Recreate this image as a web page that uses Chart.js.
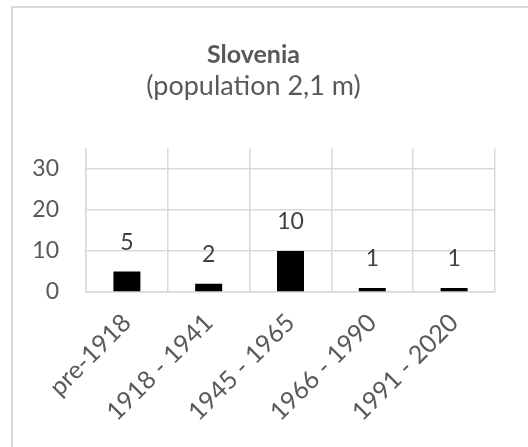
<!DOCTYPE html>
<html>
<head>
<meta charset="utf-8">
<script src="https://cdn.jsdelivr.net/npm/chart.js@4"></script>
<style>
  html, body { margin: 0; padding: 0; background: #ffffff; }
  #wrap { position: relative; width: 528px; height: 447px; }
</style>
</head>
<body>
<div id="wrap"><canvas id="chart" width="528" height="447"></canvas></div>
<script>
// Periods and the number of entries in each
const categories = ['pre-1918', '1918 - 1941', '1945 - 1965', '1966 - 1990', '1991 - 2020'];
const counts = [5, 2, 10, 1, 1];
const yTickValues = [0, 10, 20, 30];
const titleText = 'Slovenia';
const subtitleText = '(population 2,1 m)';

const FONT = 'Lato, "Open Sans", sans-serif';
const TEXT = '#595959';
const GRID = '#d9d9d9';

// Light frame around the whole chart
const framePlugin = {
  id: 'frame',
  beforeDraw(chart) {
    const ctx = chart.ctx;
    ctx.save();
    ctx.fillStyle = '#ffffff';
    ctx.fillRect(0, 0, chart.width, chart.height);
    ctx.strokeStyle = GRID;
    ctx.lineWidth = 2;
    ctx.strokeRect(12, 7, chart.width + 20, chart.height + 20);
    ctx.restore();
  }
};

// Value labels above every bar
const valueLabels = {
  id: 'valueLabels',
  afterDatasetsDraw(chart) {
    const ctx = chart.ctx;
    const meta = chart.getDatasetMeta(0);
    ctx.save();
    ctx.font = '23px ' + FONT;
    ctx.fillStyle = '#404040';
    ctx.textAlign = 'center';
    ctx.textBaseline = 'middle';
    meta.data.forEach((bar, i) => {
      ctx.fillText(String(chart.data.datasets[0].data[i]), bar.x, bar.y - 29);
    });
    ctx.restore();
  }
};

new Chart(document.getElementById('chart'), {
  type: 'bar',
  data: {
    labels: categories,
    datasets: [{
      data: counts,
      backgroundColor: '#000000',
      borderWidth: 0,
      barPercentage: 0.33,
      categoryPercentage: 1.0
    }]
  },
  options: {
    responsive: false,
    animation: false,
    events: [],
    layout: { padding: { left: 12, right: 33, top: 0, bottom: 0 } },
    plugins: {
      legend: { display: false },
      tooltip: { enabled: false },
      title: {
        display: true,
        text: titleText,
        color: TEXT,
        font: { family: FONT, size: 25, weight: 'bold', lineHeight: 1.2 },
        padding: { top: 40, bottom: 0 }
      },
      subtitle: {
        display: true,
        text: subtitleText,
        color: TEXT,
        font: { family: FONT, size: 27, weight: 'normal', lineHeight: 1.2 },
        padding: { top: 0, bottom: 46 }
      }
    },
    scales: {
      x: {
        grid: { color: GRID, lineWidth: 1.5, drawTicks: false, offset: true },
        border: { color: GRID, width: 1.5 },
        ticks: {
          color: TEXT,
          font: { family: FONT, size: 25 },
          minRotation: 45,
          maxRotation: 45,
          padding: 16
        },
        afterFit(scale) { scale.height = 155; }
      },
      y: {
        min: 0,
        max: 35,
        grid: { color: GRID, lineWidth: 1.5, drawTicks: false },
        border: { color: GRID, width: 1.5 },
        ticks: {
          color: TEXT,
          font: { family: FONT, size: 23 },
          padding: 27,
          stepSize: 10
        },
        afterBuildTicks(scale) {
          scale.ticks = yTickValues.map(v => ({ value: v }));
        },
        afterFit(scale) { scale.width = 74; }
      }
    }
  },
  plugins: [framePlugin, valueLabels]
});
</script>
</body>
</html>
